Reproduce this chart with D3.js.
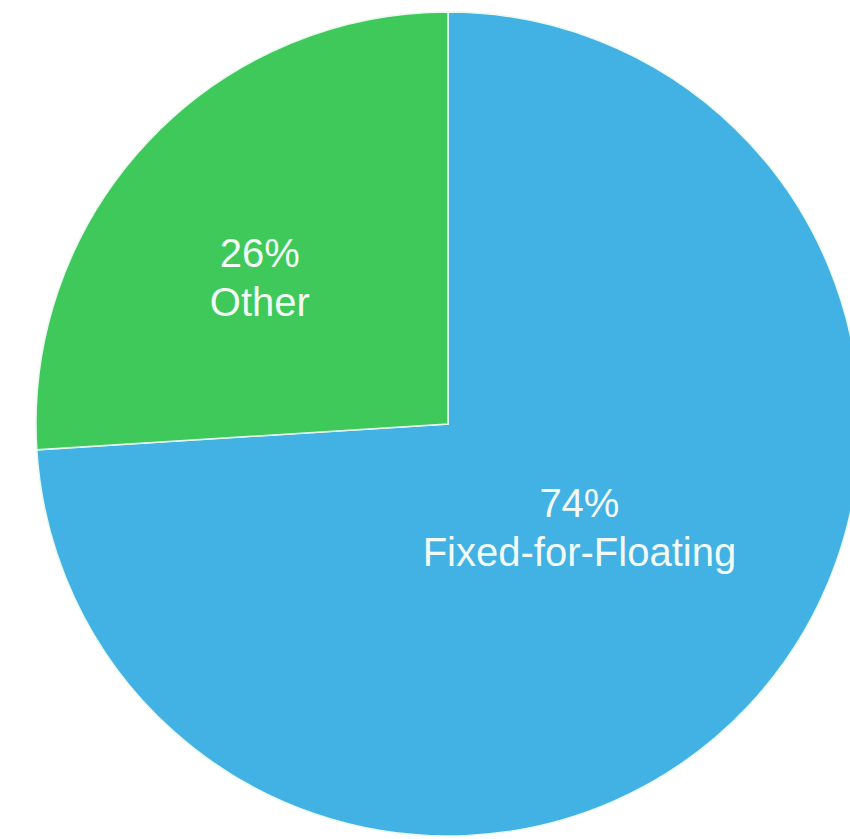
<!DOCTYPE html>
<html>
<head>
<meta charset="utf-8">
<script src="https://cdn.jsdelivr.net/npm/d3@7"></script>
<style>
  html, body { margin: 0; padding: 0; background: #ffffff; }
  svg { display: block; }
</style>
</head>
<body>
<script>
// Data
const categories = ["Fixed-for-Floating", "Other"];
const values = [74, 26];
const percentLabels = ["74%", "26%"];

// Styling config
const colors = { "Fixed-for-Floating": "#42b1e4", "Other": "#3ec95a" };
const labelRadiusFrac = { "Fixed-for-Floating": 0.405, "Other": 0.58 };
const labelAngleShift = -0.09; // radians

const width = 850, height = 839;
const cx = 448, cy = 424, radius = 412;

const svg = d3.select("body").append("svg")
  .attr("width", width).attr("height", height);

const g = svg.append("g").attr("transform", `translate(${cx},${cy})`);

const data = categories.map((c, i) => ({ name: c, value: values[i], pct: percentLabels[i] }));

const pie = d3.pie().value(d => d.value).sort(null);
const arcs = pie(data);

const arc = d3.arc().innerRadius(0).outerRadius(radius);

g.selectAll("path.slice")
  .data(arcs)
  .join("path")
  .attr("class", "slice")
  .attr("d", arc)
  .attr("fill", d => colors[d.data.name])
  .attr("stroke", "#e8f8ee")
  .attr("stroke-width", 1.5)
  .attr("stroke-linejoin", "miter");

const labels = g.selectAll("text.lbl")
  .data(arcs)
  .join("text")
  .attr("class", "lbl")
  .attr("transform", d => {
    const r = radius * labelRadiusFrac[d.data.name];
    const shifted = { startAngle: d.startAngle + labelAngleShift, endAngle: d.endAngle + labelAngleShift };
    const c = d3.arc().innerRadius(r).outerRadius(r).centroid(shifted);
    return `translate(${c[0]},${c[1]})`;
  })
  .attr("text-anchor", "middle")
  .attr("font-family", "Liberation Sans, Arial, sans-serif")
  .attr("font-size", 40)
  .attr("fill", "#f2fbf6");

labels.append("tspan").attr("x", 0).attr("y", -10).text(d => d.data.pct);
labels.append("tspan").attr("x", 0).attr("y", 39).text(d => d.data.name);
</script>
</body>
</html>
